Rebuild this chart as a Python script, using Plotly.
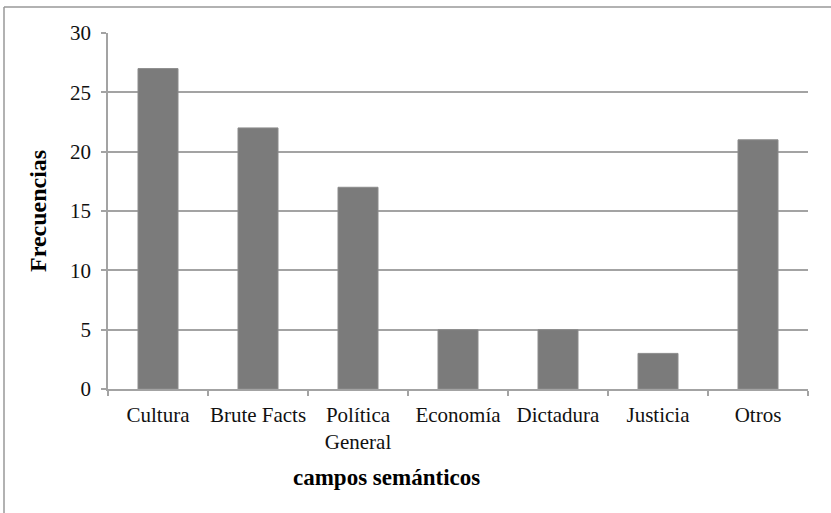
import plotly.graph_objects as go

categories = ["Cultura", "Brute Facts", "Política<br>General", "Economía", "Dictadura", "Justicia", "Otros"]
values = [27, 22, 17, 5, 5, 3, 21]
y_ticks = [0, 5, 10, 15, 20, 25, 30]

W, H = 831, 513
L, R, T, B = 108, 23, 33, 124
pw, ph = W - L - R, H - T - B

def px_x(x):
    return (x - L) / pw

def px_y(y):
    return (H - B - y) / ph

font = "Liberation Serif, Times New Roman, serif"
grid = "#a3a3a3"

fig = go.Figure(go.Bar(x=categories, y=values, marker=dict(color="#7b7b7b", line=dict(color="#8c8c8c", width=1)), width=0.4))

fig.update_layout(
    width=W, height=H,
    margin=dict(l=L, r=R, t=T, b=B),
    paper_bgcolor="white", plot_bgcolor="white",
    showlegend=False,
    font=dict(family=font, size=21, color="#111111"),
    xaxis=dict(
        showgrid=False, showline=True, linecolor=grid, linewidth=1.5,
        ticks="outside", tickson="boundaries", ticklen=5, tickcolor=grid, tickwidth=1.5,
        tickfont=dict(family=font, size=21, color="#111111"), ticklabelstandoff=6,
        tickangle=0, automargin=False,
    ),
    yaxis=dict(
        range=[0, 30], tickvals=y_ticks, showgrid=True, gridcolor=grid, gridwidth=1.5,
        showline=True, linecolor=grid, linewidth=1.5, zeroline=False,
        ticks="outside", ticklen=5, tickcolor=grid, tickwidth=1.5,
        tickfont=dict(family=font, size=21, color="#111111"), ticklabelstandoff=6,
        automargin=False,
    ),
    shapes=[
        dict(type="line", xref="paper", yref="paper", x0=px_x(4), x1=px_x(831), y0=px_y(7), y1=px_y(7), line=dict(color="#999999", width=1.5)),
        dict(type="line", xref="paper", yref="paper", x0=px_x(4), x1=px_x(4), y0=px_y(7), y1=px_y(513), line=dict(color="#999999", width=1.5)),
    ],
    annotations=[
        dict(text="<b>campos semánticos</b>", xref="paper", yref="paper", x=px_x(386), y=px_y(477),
             showarrow=False, font=dict(family=font, size=23, color="#000000"), xanchor="center", yanchor="middle"),
        dict(text="<b>Frecuencias</b>", xref="paper", yref="paper", x=px_x(38), y=px_y(211),
             showarrow=False, textangle=-90, font=dict(family=font, size=24, color="#000000"), xanchor="center", yanchor="middle"),
    ],
)

fig.write_html("out.html", config={"displayModeBar": False},
               post_script="document.body.style.margin='0';document.body.style.overflow='hidden';")
